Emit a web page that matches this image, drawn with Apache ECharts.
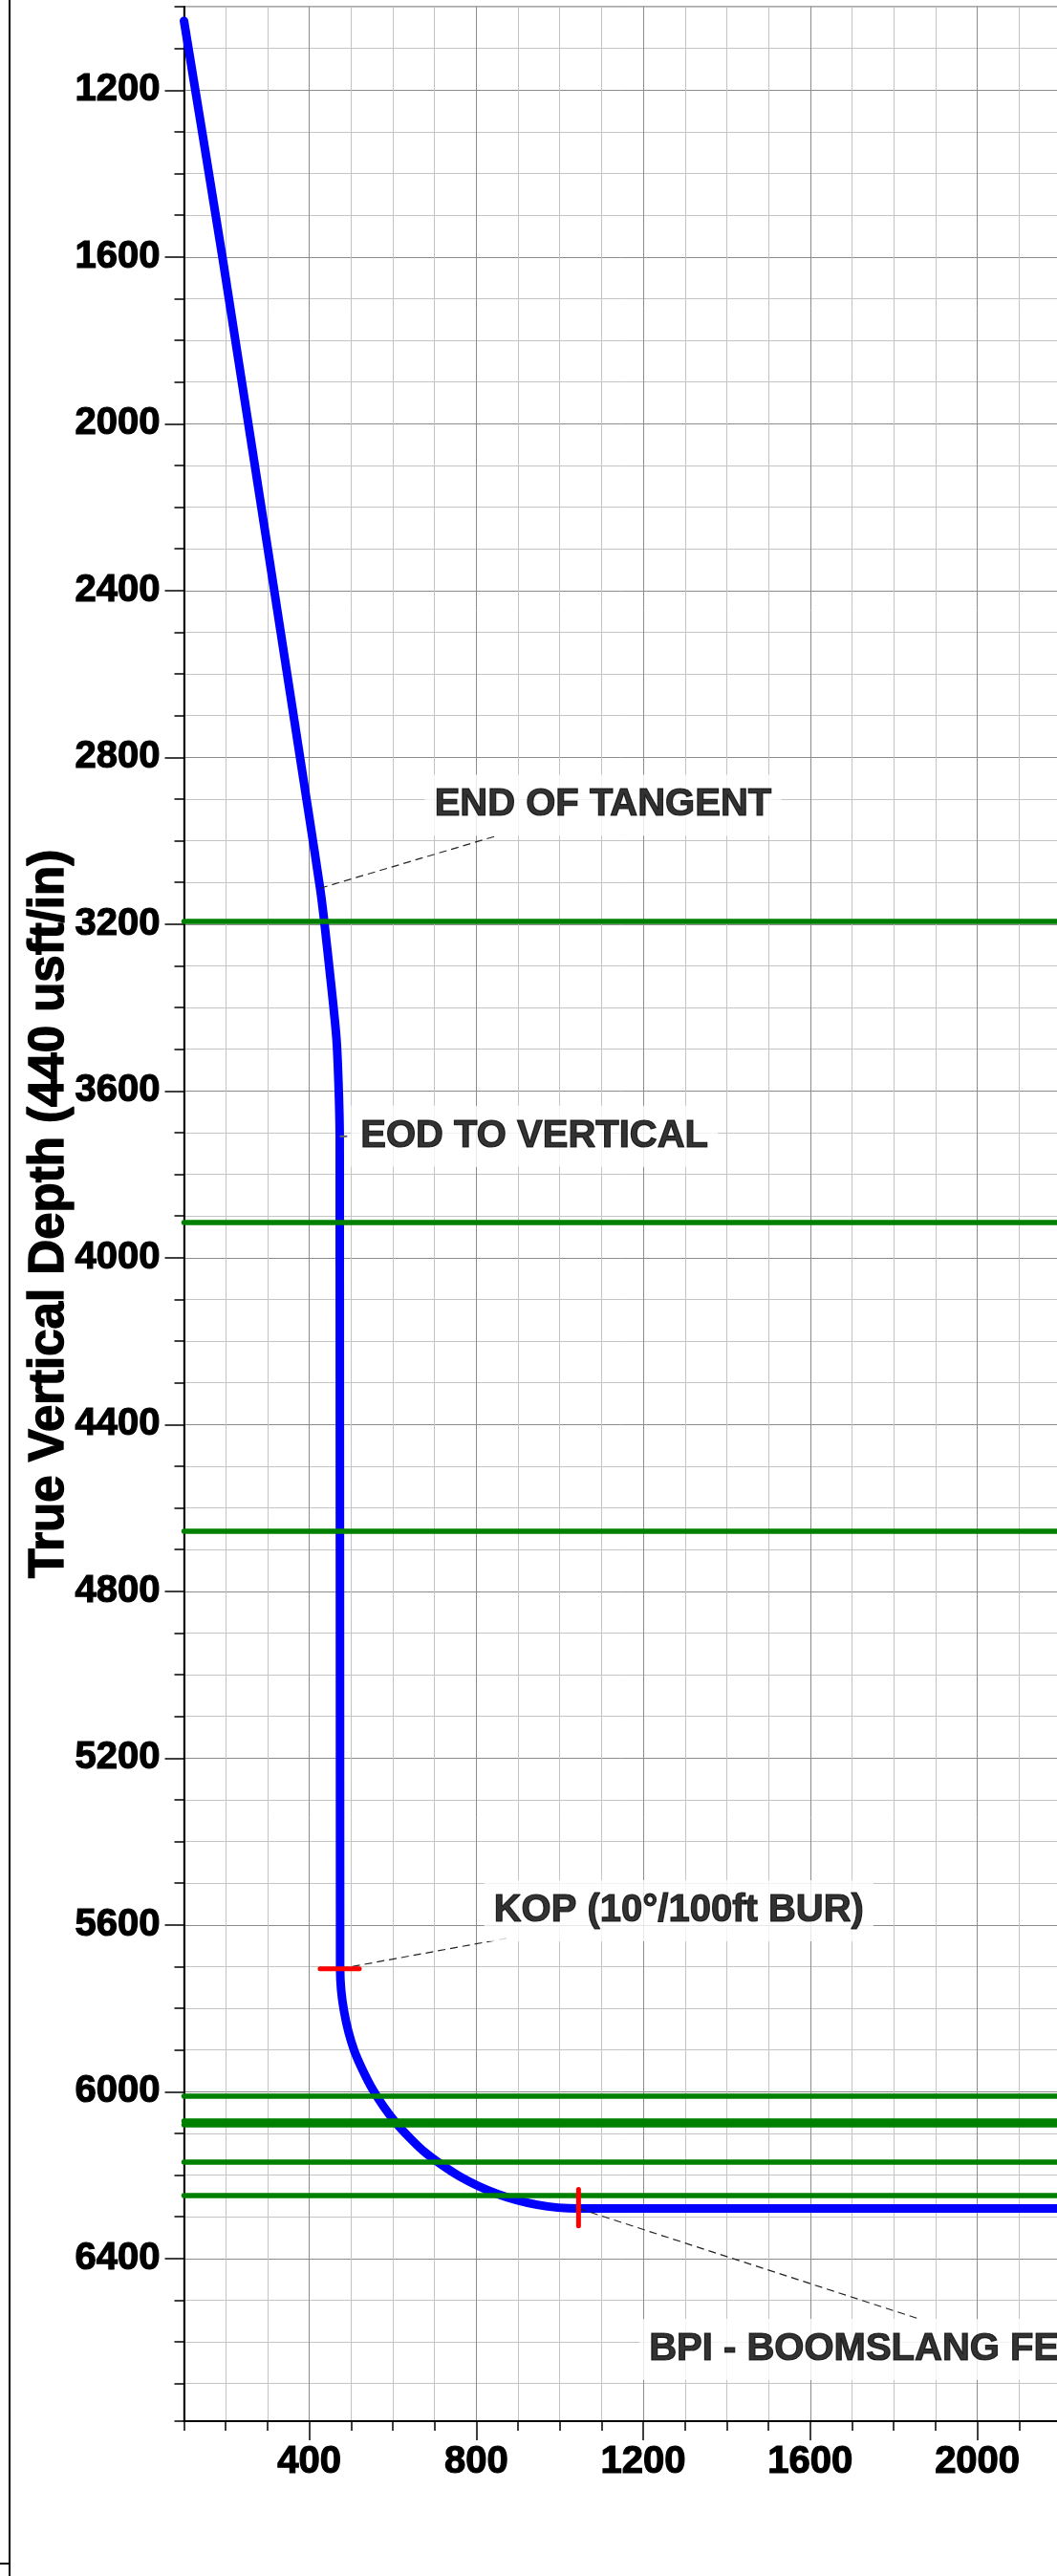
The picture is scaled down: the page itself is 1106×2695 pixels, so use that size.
<!DOCTYPE html>
<html>
<head>
<meta charset="utf-8">
<title>True Vertical Depth</title>
<script src="https://cdn.jsdelivr.net/npm/echarts@6.0.0/dist/echarts.min.js"></script>
<style>
  html, body { margin: 0; padding: 0; background: #fff; }
  #main { width: 1106px; height: 2695px; }
</style>
</head>
<body>
<div id="main"></div>
<script>
// well path: vertical section (usft) and true vertical depth (usft)
var wellVS  = [100, 192, 398, 426, 436, 453, 465, 470, 473, 474, 483, 508, 551, 608, 678, 760, 850, 946, 1045, 2400];
var wellTVD = [1034, 1600, 2930, 3114, 3194, 3350, 3472, 3579, 3709, 5705, 5805, 5902, 5993, 6075, 6146, 6203, 6245, 6271, 6280, 6280];

// formation tops (TVD)
var formationTVD = [3194, 3914, 4655, 6009, 6069, 6080, 6169, 6249];

// labelled ticks
var vsTicks  = [400, 800, 1200, 1600, 2000];
var tvdTicks = [1200, 1600, 2000, 2400, 2800, 3200, 3600, 4000, 4400, 4800, 5200, 5600, 6000, 6400];

// annotations: text, point on the path, end of the leader, label anchor
var annoText  = ['END OF TANGENT', 'EOD TO VERTICAL', 'KOP (10°/100ft BUR)', 'BPI - BOOMSLANG FED'];
var annoPoint = [[426, 3114], [473, 3709], [474, 5705], [1045, 6280]];
var annoLead  = [[850, 2988], [491, 3709], [873, 5632], [1858, 6544]];
var annoLabel = [[676, 2915], [499, 3709], [818, 5566], [1190, 6618]];

// red markers across the path
var kopTick = [[426, 5705], [520, 5705]];
var lpTick  = [[1045, 6234], [1045, 6322]];

var FONT = '"Liberation Sans", Arial, sans-serif';
var MINOR = '#c4c4c4', MAJOR = '#8c8c8c';

function onlyTicks(list) {
    return function (v) { return list.indexOf(v) >= 0 ? String(v) : ''; };
}

// heavy black text like the plotted sheet
var labelStyle = {
    color: '#000', fontSize: 40, fontWeight: 'bold', fontFamily: FONT,
    textBorderColor: '#000', textBorderWidth: 1.2
};

var series = [];

// formation tops
series.push({
    type: 'line', name: 'formations', data: [], silent: true, z: 2,
    markLine: {
        silent: true, symbol: ['none', 'none'], animation: false,
        label: { show: false },
        lineStyle: { color: '#008000', width: 5.5, type: 'solid', cap: 'round' },
        data: formationTVD.map(function (v) { return { yAxis: v }; })
    }
});

// well path
series.push({
    type: 'line', name: 'well', silent: true, z: 4,
    data: wellVS.map(function (x, i) { return [x, wellTVD[i]]; }),
    showSymbol: false, symbol: 'none', smooth: 0.25,
    lineStyle: { color: '#0000ff', width: 9, cap: 'round', join: 'round' }
});

// leaders
annoPoint.forEach(function (p, i) {
    series.push({
        type: 'line', silent: true, z: 5, symbol: 'none',
        data: [p, annoLead[i]],
        lineStyle: i === 1
            ? { color: '#666', width: 2, type: 'solid' }
            : { color: '#222', width: 1.2, type: [8, 5] }
    });
});

// red markers
[kopTick, lpTick].forEach(function (t) {
    series.push({
        type: 'line', silent: true, z: 6, symbol: 'none', data: t,
        lineStyle: { color: '#ff0000', width: 5, cap: 'round' }
    });
});

// annotation labels
series.push({
    type: 'scatter', silent: true, z: 7, symbolSize: 1,
    itemStyle: { color: 'rgba(0,0,0,0)' },
    data: annoLabel.map(function (p, i) { return { name: annoText[i], value: p }; }),
    label: Object.assign({
        show: true, position: 'right', distance: 0, formatter: '{b}',
        backgroundColor: '#fff', padding: [11, 10], lineHeight: 42
    }, labelStyle)
});

var option = {
    animation: false,
    backgroundColor: '#fff',
    grid: {
        left: 192.5, top: 7, right: -4, bottom: 162,
        show: true, borderColor: '#aaa', borderWidth: 2, backgroundColor: 'transparent',
        outerBoundsMode: 'none'
    },
    xAxis: [{
        type: 'value', min: 100, max: 2200, interval: 100, position: 'bottom',
        axisLine: { show: true, onZero: false, lineStyle: { color: '#000', width: 2 } },
        axisTick: { show: true, length: 10, lineStyle: { color: '#000', width: 1.5 } },
        axisLabel: Object.assign({ formatter: onlyTicks(vsTicks), margin: 23 }, labelStyle),
        splitLine: { show: true, lineStyle: { color: [MINOR, MINOR, MINOR, MAJOR], width: 1 } }
    }, {
        type: 'value', min: 100, max: 2200, position: 'bottom',
        axisLine: { show: false },
        axisTick: { show: true, customValues: vsTicks, length: 20, lineStyle: { color: '#000', width: 1.5 } },
        axisLabel: { show: false },
        splitLine: { show: false }
    }],
    yAxis: [{
        type: 'value', min: 1000, max: 6790, interval: 100, inverse: true, position: 'left',
        axisLine: { show: true, onZero: false, lineStyle: { color: '#000', width: 2 } },
        axisTick: { show: true, length: 10, lineStyle: { color: '#000', width: 1.5 } },
        axisLabel: Object.assign({ formatter: onlyTicks(tvdTicks), margin: 25 }, labelStyle),
        splitLine: { show: true, lineStyle: { color: [MINOR, MINOR, MAJOR, MINOR], width: 1 } }
    }, {
        type: 'value', min: 1000, max: 6790, inverse: true, position: 'left',
        axisLine: { show: false },
        axisTick: { show: true, customValues: tvdTicks, length: 20, lineStyle: { color: '#000', width: 1.5 } },
        axisLabel: { show: false },
        splitLine: { show: false }
    }],
    graphic: [{
        type: 'text', x: 52, y: 1270, rotation: Math.PI / 2, silent: true,
        style: {
            text: 'True Vertical Depth (440 usft/in)',
            font: 'bold 51px ' + FONT, fill: '#000',
            stroke: '#000', lineWidth: 1.4,
            align: 'center', verticalAlign: 'middle',
            textAlign: 'center', textVerticalAlign: 'middle'
        }
    }, {
        type: 'line', silent: true,
        shape: { x1: 10, y1: 0, x2: 10, y2: 2695 },
        style: { stroke: '#000', lineWidth: 2 }
    }, {
        type: 'line', silent: true,
        shape: { x1: 0, y1: 2682, x2: 10, y2: 2682 },
        style: { stroke: '#000', lineWidth: 2 }
    }],
    series: series
};

var chart = echarts.init(document.getElementById('main'));
chart.setOption(option);
</script>
</body>
</html>
